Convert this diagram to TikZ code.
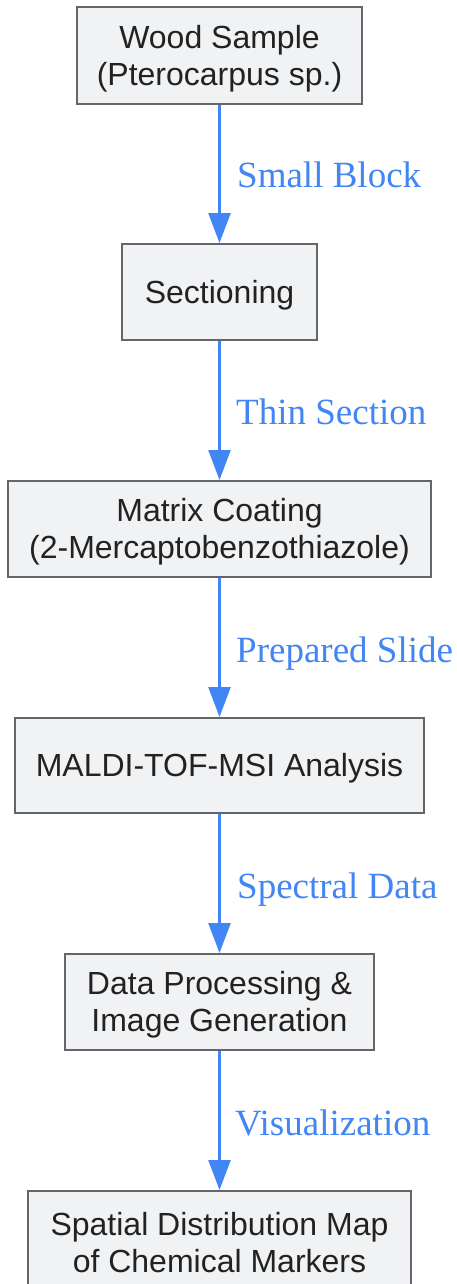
\documentclass[tikz,border=0pt]{standalone}
\usepackage{fontspec}
\setmainfont{Liberation Serif}
\setsansfont{Liberation Sans}
\usetikzlibrary{arrows.meta}
\definecolor{boxfill}{HTML}{F1F2F4}
\definecolor{boxline}{HTML}{64666A}
\definecolor{txt}{HTML}{222222}
\definecolor{flow}{HTML}{4285F4}
\tikzset{
 box/.style={draw=boxline, line width=2pt, fill=boxfill, inner sep=0pt},
 boxtext/.style={text=txt, font=\sffamily\fontsize{32}{37}\selectfont, align=center, inner sep=0pt},
 flowarrow/.style={draw=flow, line width=2.5pt, -{Triangle[length=30pt,width=22pt]}},
 lbl/.style={text=flow, font=\rmfamily\fontsize{37}{44}\selectfont, anchor=base west, inner sep=0pt}
}
\begin{document}
\begin{tikzpicture}[x=1pt,y=1pt]
\clip (0,0) rectangle (457,-1284);
\fill[white] (0,0) rectangle (457,-1284);
\node[box, minimum width=285pt, minimum height=97pt] (n1) at (219.5,-55.5) {};
\node[box, minimum width=195pt, minimum height=96pt] (n2) at (219.5,-292) {};
\node[box, minimum width=423pt, minimum height=96pt] (n3) at (219.5,-529) {};
\node[box, minimum width=409pt, minimum height=95pt] (n4) at (219.5,-765.5) {};
\node[box, minimum width=309pt, minimum height=96pt] (n5) at (219.5,-1002) {};
\node[box, minimum width=383pt, minimum height=98pt] (n6) at (219.5,-1240) {};
\node[boxtext] (t1) at ([yshift=-3pt]n1.center) {Wood Sample\\(Pterocarpus sp.)};
\node[boxtext] (t2) at ([yshift=-3pt]n2.center) {Sectioning};
\node[boxtext] (t3) at ([yshift=-3pt]n3.center) {Matrix Coating\\(2-Mercaptobenzothiazole)};
\node[boxtext] (t4) at ([yshift=-3pt]n4.center) {MALDI-TOF-MSI Analysis};
\node[boxtext] (t5) at ([yshift=-3pt]n5.center) {Data Processing \&\\Image Generation};
\node[boxtext] (t6) at ([yshift=-3pt]n6.center) {Spatial Distribution Map\\of Chemical Markers};
\draw[flowarrow] (n1) -- (n2);
\draw[flowarrow] (n2) -- (n3);
\draw[flowarrow] (n3) -- (n4);
\draw[flowarrow] (n4) -- (n5);
\draw[flowarrow] (n5) -- (n6);
\node[lbl] (l1) at (237,-188) {Small Block};
\node[lbl] (l2) at (236,-424) {Thin Section};
\node[lbl] (l3) at (236,-662) {Prepared Slide};
\node[lbl] (l4) at (237,-898) {Spectral Data};
\node[lbl] (l5) at (235,-1135) {Visualization};
\end{tikzpicture}
\end{document}
